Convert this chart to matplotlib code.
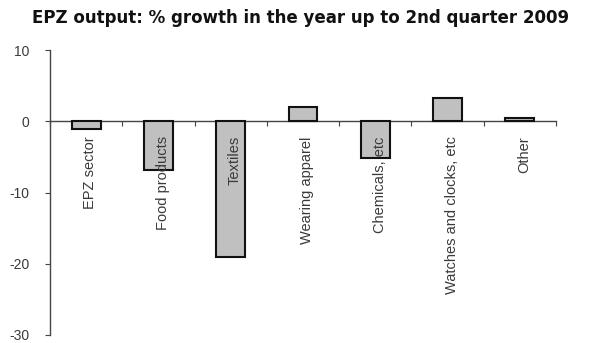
import matplotlib
matplotlib.use("Agg")
import matplotlib.pyplot as plt
import numpy as np

categories = ["EPZ sector", "Food products", "Textiles", "Wearing apparel",
              "Chemicals, etc", "Watches and clocks, etc", "Other"]
growth = [-1.1, -6.9, -19.1, 2.0, -5.2, 3.3, 0.5]
y_ticks = [10, 0, -10, -20, -30]

plt.rcParams["font.family"] = ["Liberation Sans", "DejaVu Sans"]
text_color = "#3a3a3a"

fig = plt.figure(figsize=(5.92, 3.43), dpi=100)
ax = fig.add_axes([50 / 592, 1 - 335 / 343, 506 / 592, 285 / 343])

x = np.arange(len(categories))
ax.bar(x, growth, width=0.4, color="#c0c0c0", edgecolor="#111111", linewidth=1.5, zorder=3)

ax.set_xlim(-0.5, len(categories) - 0.5)
ax.set_ylim(-30, 10)
ax.set_yticks(y_ticks)
ax.set_yticklabels([str(v) for v in y_ticks], fontsize=10, color=text_color)

for s in ("top", "right"):
    ax.spines[s].set_visible(False)
ax.spines["bottom"].set_position(("data", 0))
ax.spines["bottom"].set_color("#444444")
ax.spines["left"].set_color("#444444")
ax.spines["bottom"].set_linewidth(1.0)
ax.spines["left"].set_linewidth(1.0)

ax.tick_params(axis="y", direction="out", length=3.6, pad=11, color="#444444")
ax.set_xticks(np.arange(len(categories) + 1) - 0.5)
ax.set_xticklabels([])
ax.tick_params(axis="x", direction="out", length=3.6, color="#444444")

for xi, name in zip(x, categories):
    ax.text(xi + 0.06, -2.1, name, rotation=90, ha="center", va="top",
            fontsize=10.5, color=text_color, zorder=4)

fig.suptitle("EPZ output: % growth in the year up to 2nd quarter 2009",
             x=0.508, y=0.975, fontsize=12, fontweight="bold", color="#111111",
             family=["DejaVu Sans"])

fig.savefig("out.png", dpi=100)
